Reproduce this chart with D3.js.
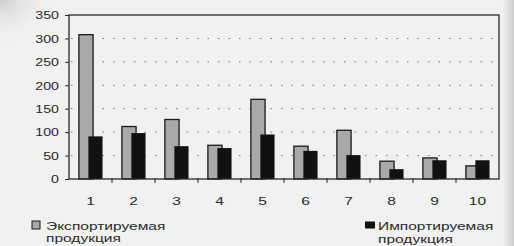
<!DOCTYPE html>
<html>
<head>
<meta charset="utf-8">
<script src="https://cdn.jsdelivr.net/npm/d3@7"></script>
<style>
  body { margin: 0; background: #efefef; }
  svg { display: block; }
  text { font-family: "Liberation Sans", Arial, sans-serif; fill: #2a2a2a; }
</style>
</head>
<body>
<script>
// categories and values
var categories = ["1", "2", "3", "4", "5", "6", "7", "8", "9", "10"];
var exportValues = [308, 112, 127, 72, 170, 70, 104, 38, 45, 28];
var importValues = [91, 98, 70, 66, 95, 60, 51, 21, 40, 40];
var yTicks = [0, 50, 100, 150, 200, 250, 300, 350];
var seriesNames = [["Экспортируемая", "продукция"], ["Импортируемая", "продукция"]];

var W = 514, H = 246;
var plot = { left: 69, right: 499, top: 15, bottom: 179 };
var sx = 1.35; // the scan is stretched sideways, so the lettering is too

var svg = d3.select("body").append("svg")
    .attr("width", W)
    .attr("height", H);

// paper shading
var defs = svg.append("defs");
var shade = defs.append("radialGradient").attr("id", "corner")
    .attr("cx", "0").attr("cy", "0").attr("r", "0.35");
shade.append("stop").attr("offset", "0").attr("stop-color", "#cfcfcf");
shade.append("stop").attr("offset", "1").attr("stop-color", "#efefef").attr("stop-opacity", 0);
var edge = defs.append("linearGradient").attr("id", "edge");
edge.append("stop").attr("offset", "0").attr("stop-color", "#efefef");
edge.append("stop").attr("offset", "1").attr("stop-color", "#cfcfcf");

svg.append("rect").attr("width", W).attr("height", H).attr("fill", "#f1f1f1");
svg.append("rect").attr("width", 160).attr("height", 120).attr("fill", "url(#corner)");
svg.append("rect").attr("x", 503).attr("width", 11).attr("height", H).attr("fill", "url(#edge)");

var x = d3.scaleBand().domain(categories).range([plot.left, plot.right]);
var y = d3.scaleLinear().domain([0, 350]).range([plot.bottom, plot.top]);

//puts a text at (px, py) squeezed/stretched by sx around its anchor
function wideText(sel, px, py) {
  return sel.attr("x", 0).attr("y", 0)
    .attr("transform", function (d, i) {
      return "translate(" + px(d, i) + "," + py(d, i) + ") scale(" + sx + ",1)";
    });
}

// dotted grid
svg.append("g").selectAll("line")
    .data(yTicks.filter(function (d) { return d > 0 && d < 350; }))
    .join("line")
    .attr("x1", plot.left + 2).attr("x2", plot.right - 2)
    .attr("y1", function (d) { return y(d); })
    .attr("y2", function (d) { return y(d); })
    .attr("stroke", "#7a7a7a")
    .attr("stroke-width", 1)
    .attr("stroke-dasharray", "1.5,9");

// bars
var bw = x.bandwidth() * 0.33;
svg.append("g").selectAll("rect")
    .data(exportValues)
    .join("rect")
    .attr("x", function (d, i) { return x(categories[i]) + x.bandwidth() * 0.23; })
    .attr("y", function (d) { return y(d); })
    .attr("width", bw)
    .attr("height", function (d) { return y(0) - y(d); })
    .attr("fill", "#a9a9a9")
    .attr("stroke", "#1a1a1a")
    .attr("stroke-width", 1.3);

svg.append("g").selectAll("rect")
    .data(importValues)
    .join("rect")
    .attr("x", function (d, i) { return x(categories[i]) + x.bandwidth() * 0.45; })
    .attr("y", function (d) { return y(d); })
    .attr("width", bw)
    .attr("height", function (d) { return y(0) - y(d); })
    .attr("fill", "#111");

// frame
svg.append("rect")
    .attr("x", plot.left).attr("y", plot.top)
    .attr("width", plot.right - plot.left)
    .attr("height", plot.bottom - plot.top)
    .attr("fill", "none")
    .attr("stroke", "#2a2a2a")
    .attr("stroke-width", 1.3);

// y axis
var yAxis = svg.append("g")
    .attr("transform", "translate(" + plot.left + ",0)")
    .call(d3.axisLeft(y).tickValues(yTicks).tickSize(4).tickPadding(10));
yAxis.select(".domain").remove();
yAxis.selectAll("line").attr("stroke", "#2a2a2a");
yAxis.selectAll("text")
    .style("font-size", "10.5px")
    .attr("fill", "#2a2a2a")
    .attr("dy", null)
    .attr("x", 0).attr("y", 0)
    .attr("transform", "translate(-10,3.8) scale(" + sx + ",1)");

// x axis: ticks between categories, labels centred
var bounds = categories.slice(1).map(function (c) { return x(c); });
svg.append("g").selectAll("line")
    .data(bounds)
    .join("line")
    .attr("x1", function (d) { return d; }).attr("x2", function (d) { return d; })
    .attr("y1", plot.bottom - 1).attr("y2", plot.bottom + 4)
    .attr("stroke", "#2a2a2a");

wideText(svg.append("g").selectAll("text")
    .data(categories)
    .join("text")
    .attr("text-anchor", "middle")
    .style("font-size", "11.5px")
    .text(function (d) { return d; }),
  function (d) { return x(d) + x.bandwidth() / 2; },
  function () { return 205; });

// legend
var legendPos = [
  { x: 32, w: 8, h: 8, y: 221, tx: 14, fill: "#a9a9a9", stroke: "#1a1a1a" },
  { x: 365, w: 10, h: 7, y: 221.5, tx: 13, fill: "#111", stroke: "none" }
];
var lg = svg.append("g").selectAll("g")
    .data(seriesNames)
    .join("g")
    .attr("transform", function (d, i) { return "translate(" + legendPos[i].x + ",0)"; });
lg.append("rect")
    .attr("y", function (d, i) { return legendPos[i].y; })
    .attr("width", function (d, i) { return legendPos[i].w; })
    .attr("height", function (d, i) { return legendPos[i].h; })
    .attr("fill", function (d, i) { return legendPos[i].fill; })
    .attr("stroke", function (d, i) { return legendPos[i].stroke; });
wideText(lg.append("text")
    .style("font-size", "11.5px")
    .text(function (d) { return d[0]; }),
  function (d, i) { return legendPos[i].tx; },
  function () { return 229.5; });
wideText(lg.append("text")
    .style("font-size", "11.5px")
    .text(function (d) { return d[1]; }),
  function (d, i) { return legendPos[i].tx; },
  function (d, i) { return i ? 243 : 242; });
</script>
</body>
</html>
